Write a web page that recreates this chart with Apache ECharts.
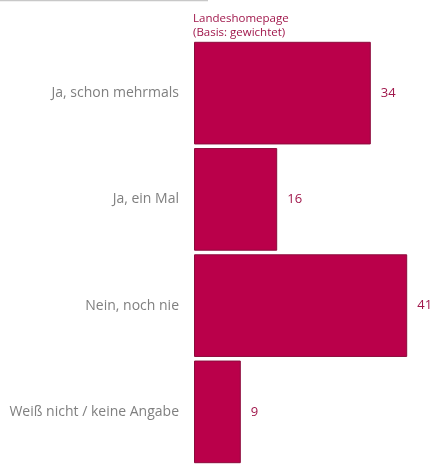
<!DOCTYPE html>
<html>
<head>
<meta charset="utf-8">
<script src="https://cdn.jsdelivr.net/npm/echarts@6/dist/echarts.min.js"></script>
<style>
body { margin: 0; padding: 0; background: #fff; }
#chart { width: 431px; height: 465px; }
</style>
</head>
<body>
<div id="chart"></div>
<script>
// Antworten und Anteile in Prozent
const categories = ["Ja, schon mehrmals", "Ja, ein Mal", "Nein, noch nie", "Weiß nicht / keine Angabe"];
const values = [34, 16, 41, 9];
const seriesName = "Landeshomepage\n(Basis: gewichtet)";

const chart = echarts.init(document.getElementById("chart"));
chart.setOption({
  animation: false,
  textStyle: { fontFamily: "Open Sans" },
  title: {
    text: seriesName,
    left: 188,
    top: 7,
    textStyle: { color: "#a0174b", fontSize: 11.5, fontWeight: "normal", lineHeight: 14, fontFamily: "Open Sans" }
  },
  graphic: [{
    type: "line",
    shape: { x1: 0, y1: 0.5, x2: 208, y2: 0.5 },
    style: { stroke: "#c8c8c8", lineWidth: 1.5 }
  }],
  grid: { left: 194, top: 40, width: 234, height: 430 },
  xAxis: {
    type: "value",
    min: 0,
    max: 45,
    show: false
  },
  yAxis: {
    type: "category",
    data: categories,
    inverse: true,
    axisLine: { show: false },
    axisTick: { show: false },
    axisLabel: { color: "#7f7f7f", fontSize: 14, margin: 15, fontFamily: "Open Sans" }
  },
  series: [{
    type: "bar",
    data: values,
    barCategoryGap: "3.4%",
    itemStyle: { color: "#ba004a", borderColor: "#8c0a3c", borderWidth: 1 },
    label: {
      show: true,
      position: "right",
      distance: 10,
      color: "#a0174b",
      fontSize: 13,
      fontFamily: "Open Sans"
    }
  }]
});
</script>
</body>
</html>
